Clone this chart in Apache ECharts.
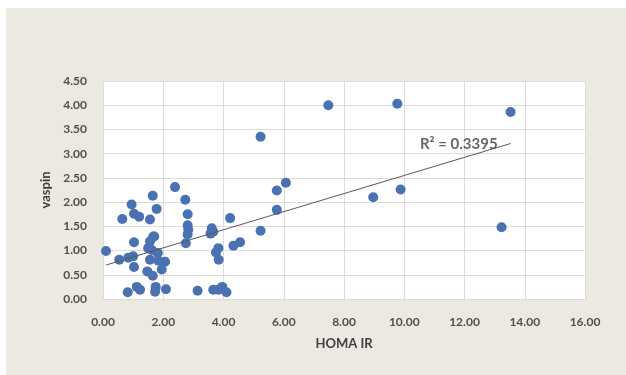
<!DOCTYPE html>
<html><head><meta charset="utf-8">
<script src="https://cdn.jsdelivr.net/npm/echarts@6/dist/echarts.min.js"></script>
<style>html,body{margin:0;padding:0;background:#fff}#c{width:626px;height:375px}</style>
</head><body><div id="c"></div>
<script>
const homaIR = [0.10,0.64,0.95,1.03,1.20,1.56,1.65,1.78,2.39,2.73,2.81,2.81,2.83,2.81,2.75,1.70,1.03,1.56,1.50,1.62,1.82,0.54,0.84,1.00,1.56,2.06,1.95,1.03,1.47,1.65,1.75,1.73,0.82,1.12,1.23,2.09,3.14,3.66,3.83,3.96,4.10,3.61,3.66,3.57,4.22,3.83,3.75,3.84,4.33,4.55,5.23,7.48,9.77,6.07,5.77,5.77,5.23,8.97,9.88,13.53,13.23,1.67,1.84];
const vaspin = [0.99,1.65,1.95,1.76,1.70,1.64,2.13,1.86,2.31,2.05,1.75,1.52,1.43,1.33,1.15,1.29,1.17,1.19,1.05,1.01,0.95,0.81,0.85,0.88,0.81,0.77,0.61,0.66,0.57,0.48,0.25,0.15,0.14,0.25,0.19,0.20,0.17,0.19,0.19,0.25,0.14,1.46,1.39,1.35,1.67,1.05,0.96,0.81,1.10,1.17,3.35,4.00,4.03,2.40,2.24,1.84,1.41,2.10,2.26,3.86,1.48,1.29,0.79];
const trendX = [0.10, 13.53];
const trendY = [0.70, 3.21];
const r2Label = 'R² = 0.3395';
const xTicks = {min:0, max:16, interval:2};
const yTicks = {min:0, max:4.5, interval:0.5};

const chart = echarts.init(document.getElementById('c'), null, {renderer:'canvas'});
const font = 'Lato, "Open Sans", sans-serif';
chart.setOption({
  animation:false,
  backgroundColor:'#fff',
  graphic:[{type:'rect', z:-10, shape:{x:6,y:8,width:620,height:367}, style:{fill:'#ECE9E2'}}],
  grid:{left:103, right:41, top:81, bottom:76, show:true, backgroundColor:'#fff', borderWidth:0},
  xAxis:{type:'value', min:xTicks.min, max:xTicks.max, interval:xTicks.interval,
    name:'HOMA IR', nameLocation:'middle', nameGap:38,
    nameTextStyle:{fontFamily:font, fontSize:13, fontWeight:'bold', color:'#404040'},
    axisLine:{show:true, lineStyle:{color:'#d9d9d9'}}, axisTick:{show:false},
    axisLabel:{fontFamily:font, fontSize:12, fontWeight:'bold', color:'#505050', margin:17, formatter:v=>v.toFixed(2)},
    splitLine:{show:true, lineStyle:{color:'#dcdcdc'}}},
  yAxis:{type:'value', min:yTicks.min, max:yTicks.max, interval:yTicks.interval,
    name:'vaspin', nameLocation:'middle', nameGap:38, nameRotate:90,
    nameTextStyle:{fontFamily:font, fontSize:13, fontWeight:'bold', color:'#404040'},
    axisLine:{show:false}, axisTick:{show:false},
    axisLabel:{fontFamily:font, fontSize:12, fontWeight:'bold', color:'#505050', margin:16, formatter:v=>v.toFixed(2)},
    splitLine:{show:true, lineStyle:{color:'#dcdcdc'}}},
  series:[
    {type:'scatter', data:homaIR.map((x,i)=>[x,vaspin[i]]), symbolSize:10,
     itemStyle:{color:'#4a72b2', opacity:1}, z:3},
    {type:'line', data:trendX.map((x,i)=>[x,trendY[i]]), symbol:'none', z:4,
     lineStyle:{color:'#595959', width:1}},
    {type:'scatter', data:[[trendX[1], trendY[1]]], symbolSize:2, z:5, silent:true,
     itemStyle:{color:'rgba(0,0,0,0)'},
     label:{show:true, formatter:r2Label, position:'left', distance:12, offset:[0,1],
       fontFamily:font, fontSize:15, fontWeight:'bold', color:'#404040'}}
  ]
});
</script></body></html>
